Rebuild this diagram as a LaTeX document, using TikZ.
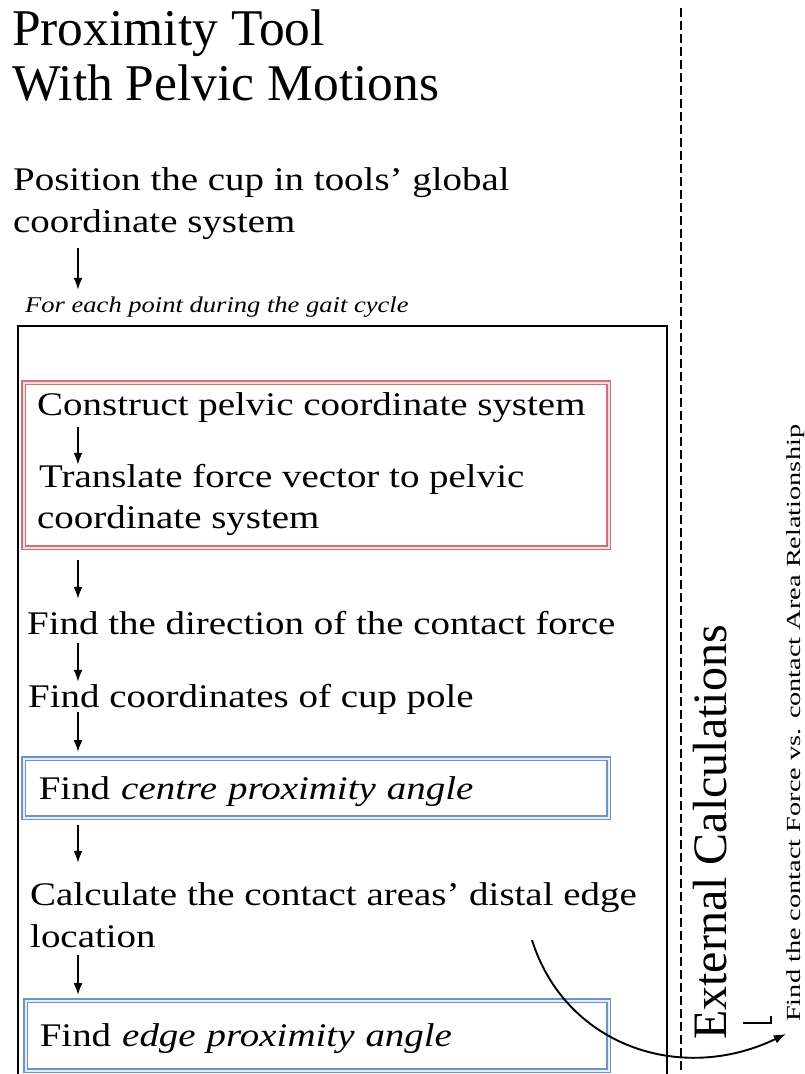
\documentclass[tikz,border=0pt]{standalone}
\usepackage{fontspec}
\setmainfont{Liberation Serif}[FakeStretch=1.18]
\newfontfamily\plainserif{Liberation Serif}
\usetikzlibrary{arrows.meta}

\definecolor{boxred}{RGB}{205,112,120}
\definecolor{boxredlight}{RGB}{246,222,224}
\definecolor{boxblue}{RGB}{110,148,196}
\definecolor{boxbluelight}{RGB}{228,237,248}

\newcommand{\titlesize}{\plainserif\fontsize{51.5}{57}\selectfont}
\newcommand{\mainsize}{\fontsize{33}{42}\selectfont}
\newcommand{\gaitsize}{\fontsize{22.5}{26}\selectfont\itshape}
\newcommand{\extsize}{\plainserif\fontsize{48}{50}\selectfont}
\newcommand{\relsize}{\fontsize{20}{22}\selectfont}

\begin{document}
\begin{tikzpicture}[x=1pt,y=-1pt]
            \tikzset{line/.style={line width=1.9pt, -{Latex[length=12pt,width=9pt]}}};
            \tikzset{txt/.style={anchor=base west, inner sep=0pt, font=\mainsize, text height=22pt, text depth=0pt}};
            \tikzset{redbox/.style={draw=boxred, double=boxredlight, double distance=1.8pt, line width=1.6pt, anchor=north west}};
            \tikzset{bluebox/.style={draw=boxblue, double=boxbluelight, double distance=1.8pt, line width=1.6pt, anchor=north west, font=\mainsize, text height=22pt, text depth=0pt, inner xsep=14pt, text width=555pt, align=left}};
            \tikzset{frame/.style={line width=2pt}};
            \tikzset{divider/.style={line width=2.8pt, dash pattern=on 9pt off 4pt}};

            \useasboundingbox (0,0) rectangle (804,1074);

            \node[anchor=base west, inner sep=0pt, font=\titlesize] (title) at (12,45) {Proximity Tool};
            \node[anchor=base west, inner sep=0pt, font=\titlesize] (titleb) at (12,100) {With Pelvic Motions};

            \node[txt] (pos) at (13,190) {Position the cup in tools’ global};
            \node[txt] (posb) at (13,232) {coordinate system};
            \node[anchor=base west, inner sep=0pt, font=\gaitsize, text height=15pt, text depth=0pt] (gait) at (25,312) {For each point during the gait cycle};

            \draw[frame] (18,1074) -- (18,326) -- (667,326) -- (667,1074);
            \draw[divider] (681,8) -- (681,1074);

            \node[redbox, minimum width=585pt, minimum height=165pt] (pelvic) at (23,382) {};
            \node[txt] (construct) at (37,415) {Construct pelvic coordinate system};
            \node[txt] (translate) at (39,487) {Translate force vector to pelvic};
            \node[txt] (translateb) at (37,528) {coordinate system};

            \node[txt] (dir) at (27,634) {Find the direction of the contact force};
            \node[txt] (pole) at (28,707) {Find coordinates of cup pole};
            \node[bluebox, minimum width=585pt, minimum height=59pt] (centre) at (23,758) {Find \textit{centre proximity angle}};
            \node[txt] (calc) at (30,905) {Calculate the contact areas’ distal edge};
            \node[txt] (calcb) at (30,947) {location};
            \node[bluebox, minimum width=583pt, minimum height=70pt] (edge) at (25,1000) {Find \textit{edge proximity angle}};

            \node[anchor=base west, rotate=90, inner sep=0pt, font=\extsize] (ext) at (726,1040) {External Calculations};
            \node[anchor=base west, rotate=90, inner xsep=10pt, inner ysep=0pt, font=\relsize, xscale=1.2] (rel) at (800,1034) {Find the contact Force vs. contact Area Relationship};

            \coordinate (col) at (78,0);
            \coordinate (from) at (532,940);

            \draw[line, shorten <=16pt, shorten >=7pt] (posb.south -| col) -- (gait.north -| col);
            \draw[line, shorten <=12pt] (construct.south -| col) -- (translate.north -| col);
            \draw[line, shorten <=11pt, shorten >=13pt] (pelvic.south -| col) -- (dir.north -| col);
            \draw[line, shorten <=9pt, shorten >=3pt] (dir.south -| col) -- (pole.north -| col);
            \draw[line, shorten <=5pt, shorten >=6pt] (pole.south -| col) -- (centre.north -| col);
            \draw[line, shorten <=6pt, shorten >=20pt] (centre.south -| col) -- (calc.north -| col);
            \draw[line, shorten <=8pt, shorten >=5pt] (calcb.south -| col) -- (edge.north -| col);

            \draw[line] (from) .. controls (565,1045) and (680,1085) .. (rel.north west);
            \draw[line width=1.4pt] (743,1023) -- (771,1023) -- (771,1016);
        \end{tikzpicture}
\end{document}
